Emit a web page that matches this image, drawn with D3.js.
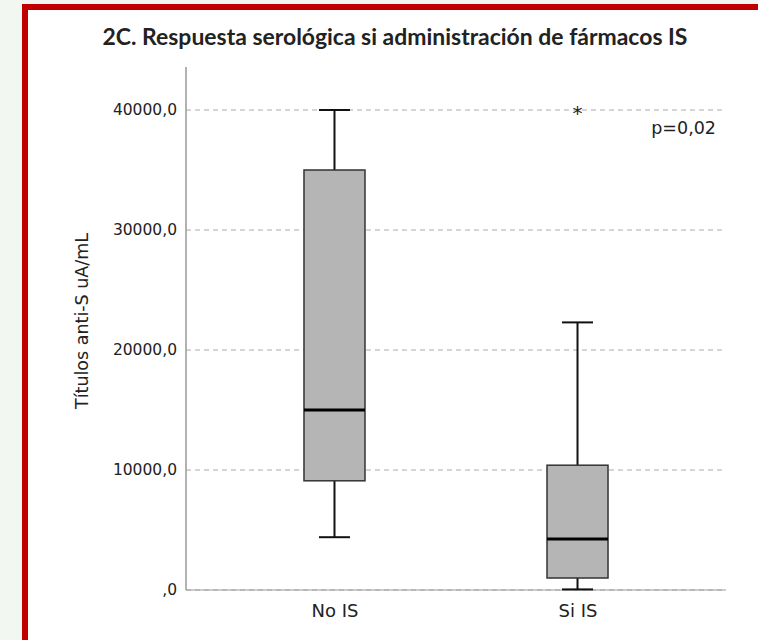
<!DOCTYPE html>
<html>
<head>
<meta charset="utf-8">
<script src="https://cdn.jsdelivr.net/npm/d3@7"></script>
<style>
  body { margin: 0; background: #f3f7f1; }
  svg { display: block; }
  text { font-family: "DejaVu Sans", sans-serif; fill: #222; }
</style>
</head>
<body>
<script>
// groups and their box-plot stats
const groups = ["No IS", "Si IS"];
const whiskerLow = [4400, 50];
const q1 = [9100, 1000];
const median = [15000, 4250];
const q3 = [35000, 10400];
const whiskerHigh = [40000, 22300];
const outliers = [{ group: "Si IS", value: 40000 }];
const yTicks = [0, 10000, 20000, 30000, 40000];

const W = 758, H = 640;

const svg = d3.select("body").append("svg")
    .attr("width", W)
    .attr("height", H);

// white panel with red frame
svg.append("rect")
    .attr("x", 25).attr("y", 7)
    .attr("width", W).attr("height", H)
    .attr("fill", "#fff")
    .attr("stroke", "#c00000")
    .attr("stroke-width", 6);

let x = d3.scalePoint()
    .domain(groups)
    .range([186, 726])
    .padding(0.611);

let y = d3.scaleLinear()
    .domain([0, 40000])
    .range([590, 110]);

// dashed grid lines
svg.append("g")
    .selectAll("line")
    .data(yTicks)
    .join("line")
    .attr("x1", 186).attr("x2", 726)
    .attr("y1", d => y(d)).attr("y2", d => y(d))
    .attr("stroke", "#aaa")
    .attr("stroke-width", 1)
    .attr("stroke-dasharray", "5,4");

// y axis
let fmt = d => d === 0 ? ",0" : d3.format("d")(d) + ",0";
let yAxis = svg.append("g")
    .attr("transform", "translate(186,0)")
    .call(d3.axisLeft(y).tickValues(yTicks).tickSize(0).tickPadding(9).tickFormat(fmt));
yAxis.select(".domain").remove();
yAxis.selectAll("text")
    .style("font-size", "15.5px")
    .style("font-family", "'DejaVu Sans', sans-serif")
    .attr("fill", "#222");

svg.append("line")
    .attr("x1", 186).attr("x2", 186)
    .attr("y1", 67).attr("y2", 590)
    .attr("stroke", "#999")
    .attr("stroke-width", 1.5);
svg.append("line")
    .attr("x1", 186).attr("x2", 726)
    .attr("y1", 590).attr("y2", 590)
    .attr("stroke", "#999")
    .attr("stroke-width", 1);

// x axis labels
let xAxis = svg.append("g")
    .attr("transform", "translate(0,590)")
    .call(d3.axisBottom(x).tickSize(0).tickPadding(14));
xAxis.select(".domain").remove();
xAxis.selectAll("text")
    .style("font-size", "18px")
    .style("font-family", "'DejaVu Sans', sans-serif")
    .attr("fill", "#222");

// boxes
let boxW = 61, capW = 31;
let box = svg.append("g")
    .selectAll("g")
    .data(groups)
    .join("g");

box.append("line")
    .attr("x1", d => x(d)).attr("x2", d => x(d))
    .attr("y1", (d, i) => y(whiskerHigh[i])).attr("y2", (d, i) => y(q3[i]))
    .attr("stroke", "#111").attr("stroke-width", 2);
box.append("line")
    .attr("x1", d => x(d)).attr("x2", d => x(d))
    .attr("y1", (d, i) => y(q1[i])).attr("y2", (d, i) => y(whiskerLow[i]))
    .attr("stroke", "#111").attr("stroke-width", 2);
box.append("line")
    .attr("x1", d => x(d) - capW / 2).attr("x2", d => x(d) + capW / 2)
    .attr("y1", (d, i) => y(whiskerHigh[i])).attr("y2", (d, i) => y(whiskerHigh[i]))
    .attr("stroke", "#111").attr("stroke-width", 2);
box.append("line")
    .attr("x1", d => x(d) - capW / 2).attr("x2", d => x(d) + capW / 2)
    .attr("y1", (d, i) => y(whiskerLow[i])).attr("y2", (d, i) => y(whiskerLow[i]))
    .attr("stroke", "#111").attr("stroke-width", 2);

box.append("rect")
    .attr("x", d => x(d) - boxW / 2)
    .attr("width", boxW)
    .attr("y", (d, i) => y(q3[i]))
    .attr("height", (d, i) => y(q1[i]) - y(q3[i]))
    .attr("fill", "#b5b5b5")
    .attr("stroke", "#333")
    .attr("stroke-width", 1.5);

box.append("line")
    .attr("x1", d => x(d) - boxW / 2).attr("x2", d => x(d) + boxW / 2)
    .attr("y1", (d, i) => y(median[i])).attr("y2", (d, i) => y(median[i]))
    .attr("stroke", "#000").attr("stroke-width", 3);

// outliers as asterisks
svg.append("g")
    .selectAll("text")
    .data(outliers)
    .join("text")
    .attr("x", d => x(d.group))
    .attr("y", d => y(d.value) + 10)
    .attr("text-anchor", "middle")
    .style("font-size", "20px")
    .text("*");

// p value
svg.append("text")
    .attr("x", 716).attr("y", 134)
    .attr("text-anchor", "end")
    .style("font-size", "17.5px")
    .text("p=0,02");

// y label
svg.append("text")
    .attr("transform", "translate(88,321) rotate(-90)")
    .attr("text-anchor", "middle")
    .style("font-size", "17.5px")
    .text("Títulos anti-S uA/mL");

// title
let title = svg.append("text")
    .attr("x", 395).attr("y", 45)
    .attr("text-anchor", "middle")
    .style("font-family", "Lato, 'Open Sans', sans-serif")
    .style("font-size", "18px")
    .style("font-weight", "bold")
    .attr("fill", "#111")
    .text("2C. Respuesta serológica si administración de fármacos IS");
let tw = title.node().getComputedTextLength();
if (tw > 0) title.style("font-size", (18 * 585 / tw).toFixed(2) + "px");
</script>
</body>
</html>
